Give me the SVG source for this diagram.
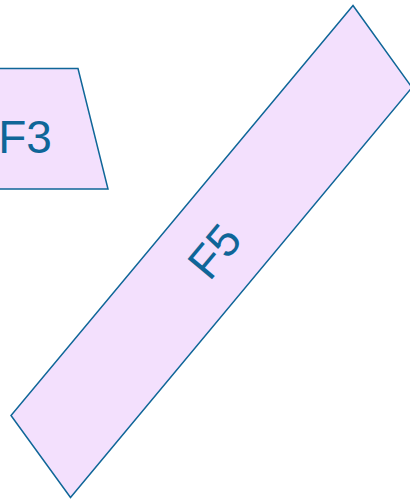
<svg xmlns="http://www.w3.org/2000/svg" width="410" height="499" viewBox="0 0 410 499">
<style>
.shape{fill:#f3e0fd;stroke:#0f6698;stroke-width:1.5;stroke-linejoin:miter}
.lbl{font-family:"Liberation Sans",Arial,sans-serif;font-size:46px;fill:#0f6698;text-anchor:middle}
</style>
<rect width="410" height="499" fill="#ffffff"/>
<g id="F3">
<polygon class="shape" points="-30,68.5 78,68.5 108,189 -60,189"/>
<text class="lbl" x="25" y="152.5">F3</text>
</g>
<g id="F5">
<polygon class="shape" points="353,5.5 412,87.5 70.5,497.5 11,415.5"/>
<text class="lbl" transform="translate(214,251) rotate(-50.2)" x="0" y="16.5">F5</text>
</g>
<g id="connectors"></g>
</svg>
